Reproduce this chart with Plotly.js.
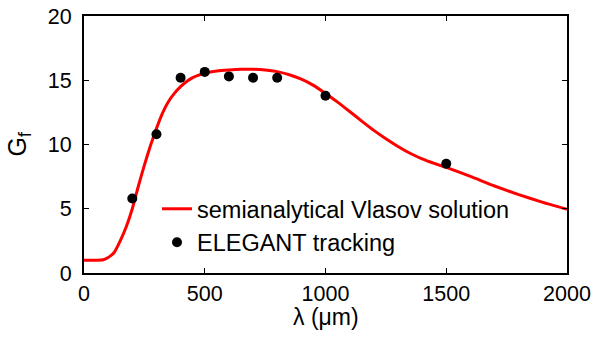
<!DOCTYPE html>
<html><head><meta charset="utf-8">
<script src="https://cdn.plot.ly/plotly-3.0.1.min.js"></script>
<style>html,body{margin:0;padding:0;background:#fff}#c{width:593px;height:339px}</style>
</head><body><div id="c"></div>
<script>
const curveLambda = [0,50,80,100,125,150,175,200,225,250,275,300,325,350,375,400,425,450,475,500,550,600,650,700,750,800,850,900,950,1000,1050,1100,1150,1200,1250,1300,1350,1400,1450,1500,1600,1700,1800,1900,2000];
const curveG = [1.0,1.0,1.03,1.2,1.6,2.5,3.6,5.0,6.75,8.4,9.9,11.25,12.45,13.35,14.0,14.5,14.9,15.2,15.4,15.55,15.72,15.8,15.85,15.85,15.8,15.67,15.43,15.08,14.6,13.97,13.3,12.57,11.82,11.1,10.45,9.85,9.32,8.88,8.53,8.22,7.52,6.77,6.1,5.5,4.96];
const trackLambda = [200,300,400,500,600,700,800,1000,1500];
const trackG = [5.8,10.8,15.2,15.65,15.3,15.2,15.2,13.8,8.5];
const xTicks = [0,500,1000,1500,2000];
const yTicks = [0,5,10,15,20];
const xTitle = 'λ (μm)';
const yTitle = 'G<sub>f</sub>';
const FONT = 'Liberation Sans, Arial, Helvetica, sans-serif';

const L = 84, R = 26, T = 16, B = 66, W = 593, H = 339;
const pw = W - L - R, ph = H - T - B;

const traces = [
  {x: curveLambda, y: curveG, mode: 'lines', name: 'semianalytical Vlasov solution',
   line: {color: '#ff0000', width: 3, shape: 'spline', smoothing: 0.5}},
  {x: trackLambda, y: trackG, mode: 'markers', name: 'ELEGANT tracking',
   marker: {color: '#000', size: 10}}
];
const axisCommon = {showline: true, linecolor: '#000', linewidth: 2, mirror: 'ticks',
  ticks: 'inside', ticklen: 5, tickwidth: 1.2, tickcolor: '#000', showgrid: false, zeroline: false,
  automargin: false,
  tickfont: {family: FONT, size: 21.5, color: '#000'}};
const layout = {
  width: W, height: H,
  margin: {l: L, r: R, t: T, b: B},
  paper_bgcolor: '#fff', plot_bgcolor: '#fff',
  font: {family: FONT, color: '#000'},
  xaxis: Object.assign({}, axisCommon, {range: [0, 2000], tickvals: xTicks, ticktext: xTicks.map(String)}),
  yaxis: Object.assign({}, axisCommon, {range: [0, 20], tickvals: yTicks, ticktext: yTicks.map(String),
    ticklabelstandoff: 6}),
  annotations: [
    {text: xTitle, xref: 'paper', yref: 'paper', x: 0.5, y: (T + ph - 317) / ph,
     xanchor: 'center', yanchor: 'middle', showarrow: false, font: {family: FONT, size: 23, color: '#000'}},
    {text: yTitle, xref: 'paper', yref: 'paper', x: (18 - L) / pw, y: 0.5, textangle: -90,
     xanchor: 'center', yanchor: 'middle', showarrow: false, font: {family: FONT, size: 25, color: '#000'}}
  ],
  showlegend: true,
  legend: {font: {family: FONT, size: 23.5, color: '#000'},
    bgcolor: 'rgba(0,0,0,0)', borderwidth: 0, itemwidth: 30,
    xanchor: 'left', yanchor: 'top',
    x: (157 - L) / pw, y: (T + ph - 187) / ph}
};
Plotly.newPlot('c', traces, layout, {displayModeBar: false, staticPlot: true});
</script></body></html>
